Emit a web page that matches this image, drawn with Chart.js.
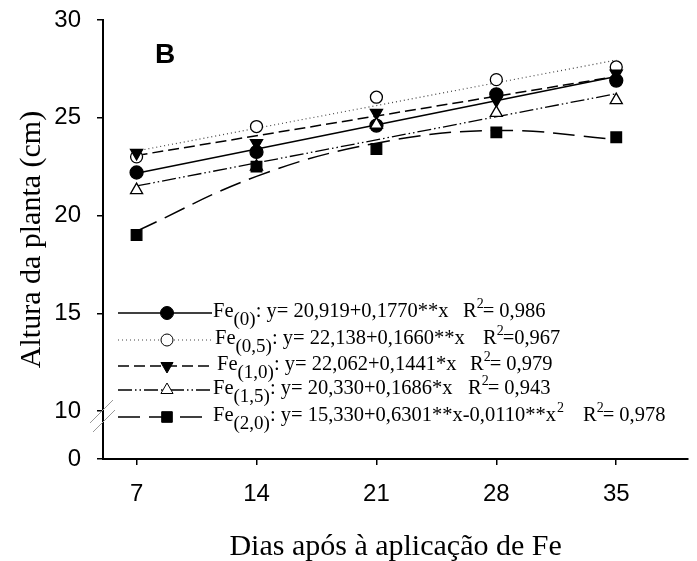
<!DOCTYPE html>
<html>
<head>
<meta charset="utf-8">
<script src="https://cdn.jsdelivr.net/npm/chart.js@4/dist/chart.umd.min.js"></script>
<style>
  html, body { margin: 0; padding: 0; background: #fff; }
  canvas { display: block; }
</style>
</head>
<body>
<canvas id="grafico" width="697" height="561"></canvas>
<script>
// dias de avaliação
const days = [7, 14, 21, 28, 35];

// médias observadas (cm)
const fe0  = [22.2, 23.25, 24.6, 26.2, 26.9];
const fe05 = [23.0, 24.55, 26.05, 26.95, 27.6];
const fe10 = [23.2, 23.7, 25.25, 25.9, 27.25];
const fe15 = [21.3, 22.5, 24.65, 25.25, 25.9];
const fe20 = [19.0, 22.5, 23.4, 24.25, 24.0];

// retas / curva ajustadas
const fitX = [7, 35];
const fit0  = [22.16, 27.11];
const fit05 = [23.30, 27.95];
const fit10 = [23.07, 27.11];
const fit15 = [21.51, 26.23];
const fit20 = [19.2, 22.0, 23.7, 24.35, 23.9];

const yTicks = [10, 15, 20, 25, 30];
const yZero = 7.545; // posição do "0" abaixo da quebra do eixo

const legSub = ['(0)', '(0,5)', '(1,0)', '(1,5)', '(2,0)'];
const legEq = [
  ': y= 20,919+0,1770**x',
  ': y= 22,138+0,1660**x',
  ': y= 22,062+0,1441*x',
  ': y= 20,330+0,1686*x',
  ': y= 15,330+0,6301**x-0,0110**x'
];
const legR2 = ['= 0,986', '=0,967', '= 0,979', '= 0,943', '= 0,978'];

const serif = "'Liberation Serif', 'Times New Roman', serif";
const sans = "'Liberation Sans', Arial, sans-serif";

const pts = (xs, ys) => xs.map((x, i) => ({ x: x, y: ys[i] }));

const series = [
  { fit: pts(fitX, fit0),  obs: pts(days, fe0),  dash: [],                    lw: 1.5, lc: '#000', style: 'circle',   rot: 0,   r: 6.5, fill: '#000' },
  { fit: pts(fitX, fit05), obs: pts(days, fe05), dash: [1, 3],                lw: 1.2, lc: '#444', style: 'circle',   rot: 0,   r: 6,   fill: '#fff' },
  { fit: pts(fitX, fit10), obs: pts(days, fe10), dash: [11, 5],               lw: 1.5, lc: '#000', style: 'triangle', rot: 180, r: 7,   fill: '#000' },
  { fit: pts(fitX, fit15), obs: pts(days, fe15), dash: [14, 3, 1.5, 3, 1.5, 3], lw: 1.3, lc: '#000', style: 'triangle', rot: 0,   r: 7,   fill: '#fff' },
  { fit: pts(days, fit20), obs: pts(days, fe20), dash: [22, 9],               lw: 1.5, lc: '#000', style: 'rect',     rot: 0,   r: 7.5, fill: '#000' }
];

const datasets = [];
series.forEach((s, i) => {
  datasets.push({
    data: s.fit, borderColor: s.lc, borderWidth: s.lw, borderDash: s.dash,
    pointRadius: 0, fill: false, tension: s.fit.length > 2 ? 0.4 : 0, order: 20 + i
  });
});
series.forEach((s, i) => {
  datasets.push({
    data: s.obs, showLine: false, pointStyle: s.style, rotation: s.rot,
    pointRadius: s.r, pointBackgroundColor: s.fill, pointBorderColor: '#000',
    pointBorderWidth: 1.3, order: 5 - i
  });
});

const extras = {
  id: 'extras',
  afterDraw(chart) {
    const ctx = chart.ctx;
    const ys = chart.scales.y;
    const ax = chart.chartArea.left;
    const y10 = ys.getPixelForValue(10);

    // quebra do eixo y
    ctx.save();
    ctx.strokeStyle = '#999';
    ctx.lineWidth = 1;
    ctx.beginPath();
    ctx.moveTo(ax - 13, y10 + 12); ctx.lineTo(ax + 10, y10 - 11);
    ctx.moveTo(ax - 10, y10 + 21); ctx.lineTo(ax + 12, y10 - 1);
    ctx.stroke();

    // letra do painel
    ctx.fillStyle = '#000';
    ctx.font = 'bold 28px ' + sans;
    ctx.textBaseline = 'alphabetic';
    ctx.fillText('B', ax + 52, 63);

    // legenda
    const rowY = [313, 340, 366, 390, 417];
    const lineEnd = [212, 213, 210, 212, 205];
    const textX = [213, 215, 217, 213, 213];
    const rX = [463, 483, 470, 468, 583];
    series.forEach((s, i) => {
      const y = rowY[i];
      ctx.save();
      ctx.strokeStyle = s.lc;
      ctx.lineWidth = s.lw;
      ctx.setLineDash(s.dash);
      ctx.beginPath();
      ctx.moveTo(ax + 15, y); ctx.lineTo(lineEnd[i], y);
      ctx.stroke();
      ctx.restore();

      ctx.fillStyle = s.fill;
      ctx.strokeStyle = '#000';
      Chart.helpers.drawPoint(ctx, { pointStyle: s.style, rotation: s.rot, radius: s.r, borderWidth: 1.3 }, 167, y);

      ctx.fillStyle = '#000';
      let x = textX[i];
      const base = y + 4;
      ctx.font = '20.5px ' + serif;
      ctx.fillText('Fe', x, base); x += ctx.measureText('Fe').width;
      ctx.font = '19px ' + serif;
      ctx.fillText(legSub[i], x, base + 8); x += ctx.measureText(legSub[i]).width;
      ctx.font = '20.5px ' + serif;
      ctx.fillText(legEq[i], x, base); x += ctx.measureText(legEq[i]).width;
      if (i === 4) {
        ctx.font = '14px ' + serif;
        ctx.fillText('2', x + 1, base - 9);
      }
      ctx.font = '20.5px ' + serif;
      ctx.fillText('R', rX[i], base);
      const rw = ctx.measureText('R').width;
      ctx.font = '14px ' + serif;
      ctx.fillText('2', rX[i] + rw, base - 9);
      ctx.font = '20.5px ' + serif;
      ctx.fillText(legR2[i], rX[i] + rw + 6, base);
    });
    ctx.restore();
  }
};

new Chart(document.getElementById('grafico'), {
  type: 'line',
  data: { datasets: datasets },
  options: {
    responsive: false,
    animation: false,
    layout: { padding: { top: 20, right: 1, left: 0, bottom: 0 } },
    plugins: { legend: { display: false }, tooltip: { enabled: false } },
    scales: {
      x: {
        type: 'linear', min: 5.04, max: 39.2,
        afterBuildTicks: s => { s.ticks = days.map(v => ({ value: v })); },
        afterFit: s => { s.height = 102; s.paddingLeft = 0; s.paddingRight = 0; },
        grid: { drawOnChartArea: false, drawTicks: true, tickLength: 6, color: '#000', lineWidth: 1.5 },
        border: { color: '#000', width: 2 },
        ticks: { color: '#000', font: { family: sans, size: 24 }, padding: 15, maxRotation: 0, autoSkip: false },
        title: { display: true, text: 'Dias após à aplicação de Fe', color: '#000', font: { family: serif, size: 30 }, padding: { top: 0, bottom: -4 } }
      },
      y: {
        type: 'linear', min: yZero, max: 30,
        afterBuildTicks: s => { s.ticks = [yZero].concat(yTicks).map(v => ({ value: v })); },
        afterFit: s => { s.width = 103; s.paddingTop = 0; s.paddingBottom = 0; },
        grid: { drawOnChartArea: false, drawTicks: true, tickLength: 6, color: '#000', lineWidth: 1.5 },
        border: { color: '#000', width: 2 },
        ticks: { color: '#000', font: { family: sans, size: 24 }, padding: 16, autoSkip: false,
          callback: v => (v < 10 ? '0' : String(v)) },
        title: { display: true, text: 'Altura da planta (cm)', color: '#000', font: { family: serif, size: 30 }, padding: { top: 14, bottom: 0 } }
      }
    }
  },
  plugins: [extras]
});
</script>
</body>
</html>
